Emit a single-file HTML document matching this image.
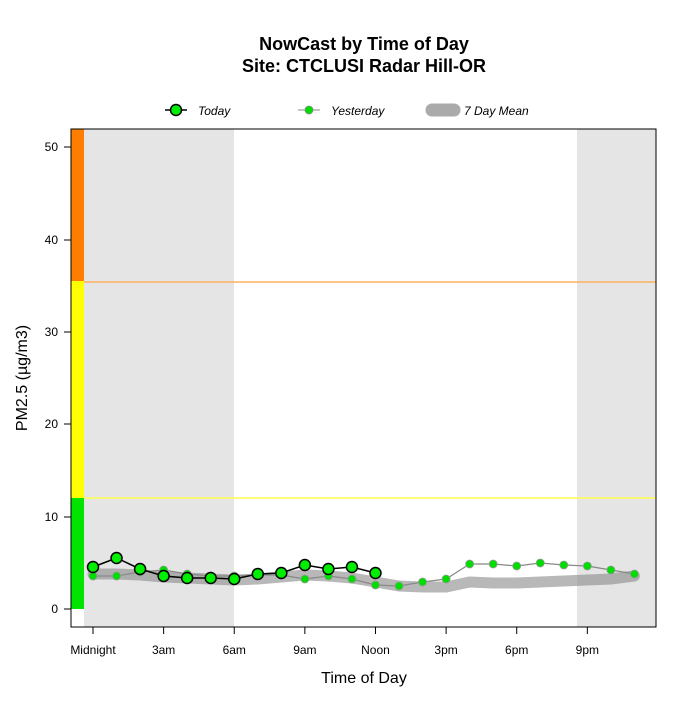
<!DOCTYPE html>
<html><head><meta charset="utf-8"><style>
body{margin:0;background:#fff;}
svg text{font-family:"Liberation Sans",sans-serif;}
</style></head><body>
<svg id="s" width="700" height="700" xmlns="http://www.w3.org/2000/svg">
<rect x="0" y="0" width="700" height="700" fill="#fff"/>
<text x="364" y="50" font-size="18" font-weight="bold" text-anchor="middle">NowCast by Time of Day</text>
<text x="364" y="72" font-size="18" font-weight="bold" text-anchor="middle">Site: CTCLUSI Radar Hill-OR</text>
<!-- legend -->
<line x1="165" y1="110" x2="187" y2="110" stroke="#000" stroke-width="1.5"/>
<circle cx="176" cy="110" r="5.5" fill="#00ee00" stroke="#000" stroke-width="1.5"/>
<text x="198" y="115" font-size="12" font-style="italic">Today</text>
<line x1="298" y1="110" x2="320" y2="110" stroke="#888" stroke-width="1"/>
<circle cx="309" cy="110" r="4" fill="#00dd00" stroke="#888" stroke-width="0.8"/>
<text x="331" y="115" font-size="12" font-style="italic">Yesterday</text>
<line x1="432" y1="110" x2="454" y2="110" stroke="#aaa" stroke-width="13" stroke-linecap="round"/>
<text x="464" y="115" font-size="12" font-style="italic">7 Day Mean</text>
<!-- shading -->
<rect x="84" y="129" width="150" height="498" fill="#e5e5e5"/>
<rect x="577" y="129" width="79" height="498" fill="#e5e5e5"/>
<!-- color bar -->
<rect x="71" y="129" width="13" height="152" fill="#ff7e00"/>
<rect x="71" y="281" width="13" height="217" fill="#ffff00"/>
<rect x="71" y="498" width="13" height="111" fill="#00e400"/>
<line x1="84" y1="282" x2="656" y2="282" stroke="#ffb060" stroke-width="1.5"/>
<line x1="84" y1="498" x2="656" y2="498" stroke="#ffff50" stroke-width="1.5"/>
<g id="data"></g>
<rect x="71" y="129" width="585" height="498" fill="none" stroke="#000" stroke-width="1"/>
<!-- y axis -->
<g font-size="12" text-anchor="end">
<line x1="71" y1="147" x2="71" y2="609" stroke="#000"/>
<line x1="64" y1="609" x2="71" y2="609" stroke="#000"/><text x="58" y="613">0</text>
<line x1="64" y1="517" x2="71" y2="517" stroke="#000"/><text x="58" y="521">10</text>
<line x1="64" y1="424" x2="71" y2="424" stroke="#000"/><text x="58" y="428">20</text>
<line x1="64" y1="332" x2="71" y2="332" stroke="#000"/><text x="58" y="336">30</text>
<line x1="64" y1="240" x2="71" y2="240" stroke="#000"/><text x="58" y="244">40</text>
<line x1="64" y1="147" x2="71" y2="147" stroke="#000"/><text x="58" y="151">50</text>
</g>
<text transform="translate(27,378) rotate(-90)" font-size="16" text-anchor="middle">PM2.5 (µg/m3)</text>
<g id="xt" font-size="12" text-anchor="middle"></g>
<text x="364" y="683" font-size="16" text-anchor="middle">Time of Day</text>
</svg>
<script>
var X=function(h){return 93+23.54*h;};
var NS="http://www.w3.org/2000/svg";
function el(p,t,a){var e=document.createElementNS(NS,t);for(var k in a)e.setAttribute(k,a[k]);p.appendChild(e);return e;}
var d=document.getElementById('data');
var mean=[574,574,575,577,578,579,580,579,577,575,576,578,582,586,587,587,582,583,583,582,581,580,579,576];
el(d,'polyline',{points:mean.map(function(y,i){return X(i)+','+y}).join(' '),fill:'none',stroke:'#888','stroke-opacity':'0.6','stroke-width':'11','stroke-linecap':'round','stroke-linejoin':'round'});
var yest=[576,576,572,570,574,576,576,575,575,579,576,579,585,586,582,579,564,564,566,563,565,566,570,574];
el(d,'polyline',{points:yest.map(function(y,i){return X(i)+','+y}).join(' '),fill:'none',stroke:'#888','stroke-width':'1.2'});
yest.forEach(function(y,i){el(d,'circle',{cx:X(i),cy:y,r:4,fill:'#00dd00',stroke:'#999','stroke-width':'0.8'});});
var tod=[567,558,569,576,578,578,579,574,573,565,569,567,573];
el(d,'polyline',{points:tod.map(function(y,i){return X(i)+','+y}).join(' '),fill:'none',stroke:'#000','stroke-width':'1.5'});
tod.forEach(function(y,i){el(d,'circle',{cx:X(i),cy:y,r:5.5,fill:'#00ee00',stroke:'#000','stroke-width':'1.5'});});
var xt=document.getElementById('xt');
el(xt,'line',{x1:X(0),y1:627,x2:X(21),y2:627,stroke:'#000'});
['Midnight','3am','6am','9am','Noon','3pm','6pm','9pm'].forEach(function(l,i){
 el(xt,'line',{x1:X(i*3),y1:627,x2:X(i*3),y2:634,stroke:'#000'});
 var t=el(xt,'text',{x:X(i*3),y:654});t.textContent=l;});
</script>
</body></html>
